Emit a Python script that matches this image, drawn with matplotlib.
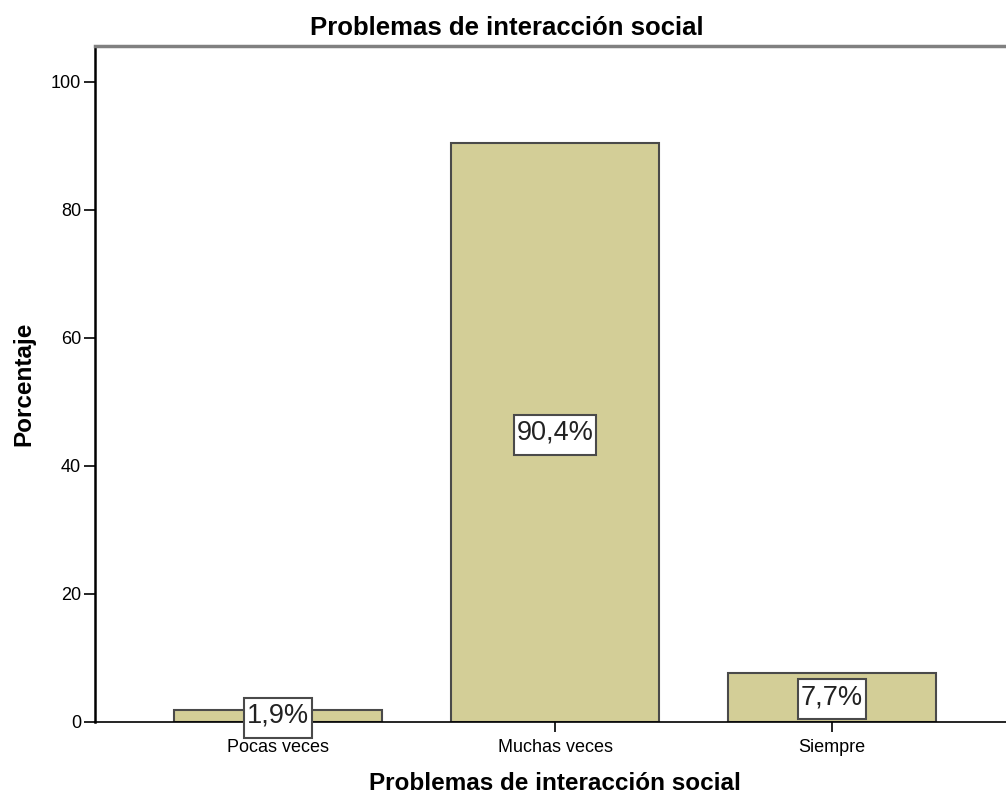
import matplotlib
matplotlib.use("Agg")
import matplotlib.pyplot as plt
from matplotlib.patches import Rectangle
from matplotlib.transforms import IdentityTransform

categorias = ["Pocas veces", "Muchas veces", "Siempre"]
porcentajes = [1.9, 90.4, 7.7]
etiquetas = ["1,9%", "90,4%", "7,7%"]

plt.rcParams['font.family'] = ['Liberation Sans', 'DejaVu Sans']

fig = plt.figure(figsize=(10.06, 7.96), dpi=100)
ax = fig.add_axes([95/1006, 1 - 722/796, 920/1006, 676/796])

x = range(len(categorias))
ax.bar(x, porcentajes, width=0.75, color="#d3ce97", edgecolor="#4a4a4a", linewidth=1.5)

textos = []
for i, (v, t) in enumerate(zip(porcentajes, etiquetas)):
    textos.append(ax.text(i, v / 2, t, ha="center", va="center", fontsize=19.5,
                          color="#222222", zorder=6))

ax.set_xlim(-0.66, 2.66)
ax.set_ylim(0, 105.6)
ax.set_xticks(list(x))
ax.set_xticklabels(categorias, fontsize=13)
ax.set_yticks([0, 20, 40, 60, 80, 100])
ax.tick_params(axis="y", labelsize=13, length=8, width=1.2, pad=2)
ax.tick_params(axis="x", length=7, width=1.2, pad=5)

ax.spines["right"].set_visible(False)
ax.spines["left"].set_linewidth(1.8)
ax.spines["bottom"].set_linewidth(1.2)
ax.spines["top"].set_color("#808080")
ax.spines["top"].set_linewidth(2.5)

fig.suptitle("Problemas de interacción social", x=507/1006, y=1 - 28/796,
             va="center", fontsize=18.5, fontweight="bold")
ax.set_xlabel("Problemas de interacción social", fontsize=17.5, fontweight="bold", labelpad=12)
ax.set_ylabel("Porcentaje", fontsize=17.5, fontweight="bold", labelpad=11)

# white boxes behind the value labels, taller than the text like SPSS does
fig.canvas.draw()
r = fig.canvas.get_renderer()
for t in textos:
    bb = t.get_window_extent(r)
    cx, cy = (bb.x0 + bb.x1) / 2, (bb.y0 + bb.y1) / 2 - 2
    w, h = bb.width + 6, 40
    ax.add_artist(Rectangle((cx - w / 2, cy - h / 2), w, h, transform=IdentityTransform(),
                            facecolor="white", edgecolor="#4a4a4a",
                            linewidth=1.5, zorder=5, clip_on=False))
    t.set_position((t.get_position()[0], t.get_position()[1]))

fig.savefig("out.png", dpi=100)
